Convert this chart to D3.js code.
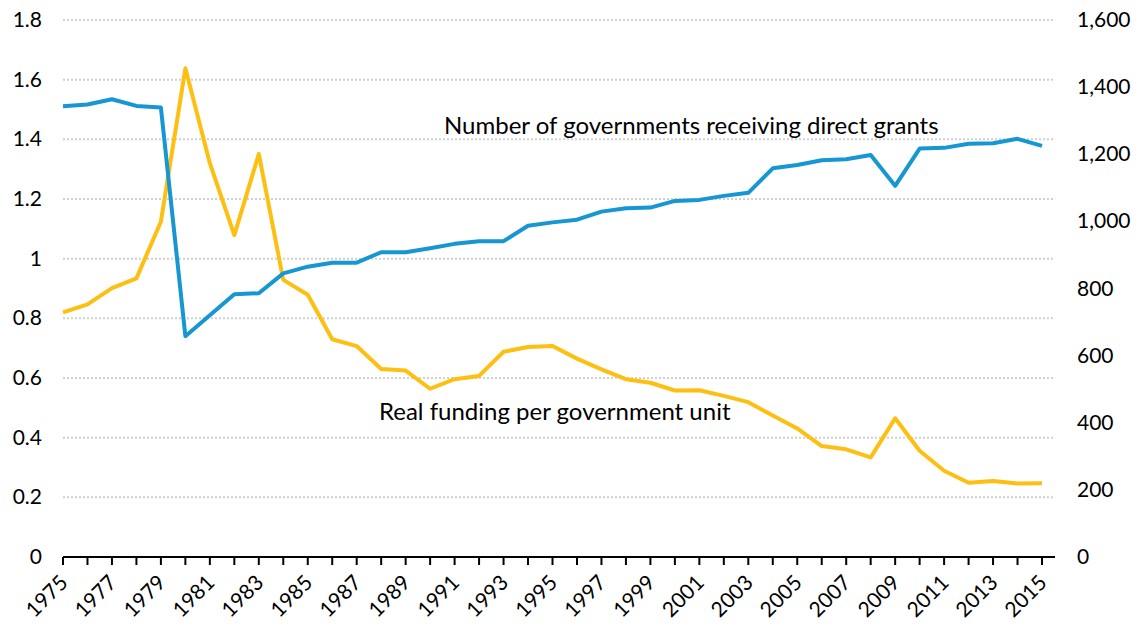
<!DOCTYPE html>
<html>
<head>
<meta charset="utf-8">
<script src="https://cdn.jsdelivr.net/npm/d3@7"></script>
<style>
  body { margin: 0; background: #fff; }
  svg text { font-family: Lato, "Open Sans", sans-serif; fill: #000; }
</style>
</head>
<body>
<svg width="1140" height="626"></svg>
<script>
var years = d3.range(1975, 2016);
// number of governments receiving direct grants (right axis)
var govCount = [1343, 1348, 1364, 1344, 1339, 658, 720, 783, 786, 845, 865, 877, 877, 908, 908, 920, 933, 941, 941, 987,
  997, 1005, 1029, 1039, 1041, 1061, 1064, 1076, 1085, 1158, 1168, 1182, 1185, 1198, 1106, 1217, 1219, 1231, 1233, 1246, 1225];
// real funding per government unit (left axis)
var funding = [0.820, 0.847, 0.901, 0.934, 1.124, 1.638, 1.320, 1.079, 1.351, 0.929, 0.879, 0.730, 0.707, 0.630, 0.625, 0.564,
  0.596, 0.607, 0.688, 0.704, 0.707, 0.665, 0.629, 0.596, 0.584, 0.558, 0.559, 0.540, 0.519, 0.474, 0.431, 0.372, 0.361,
  0.334, 0.465, 0.356, 0.289, 0.249, 0.255, 0.246, 0.247];
var leftTicks = [0, 0.2, 0.4, 0.6, 0.8, 1, 1.2, 1.4, 1.6, 1.8];
var rightTicks = [0, 200, 400, 600, 800, 1000, 1200, 1400, 1600];

var svg = d3.select('svg');
var plotLeft = 63, plotRight = 1055, plotTop = 20, plotBottom = 557;

var x = d3.scaleLinear().domain([1975, 2015]).range([plotLeft, 1042]);
var yL = d3.scaleLinear().domain([0, 1.8]).range([plotBottom, plotTop]);
var yR = d3.scaleLinear().domain([0, 1600]).range([plotBottom, plotTop]);

// gridlines
svg.append('g').selectAll('line').data(leftTicks.slice(1)).enter().append('line')
  .attr('x1', plotLeft).attr('x2', plotRight - 2)
  .attr('y1', function(d){ return yL(d) }).attr('y2', function(d){ return yL(d) })
  .attr('stroke', '#d0d0d0').attr('stroke-width', 2).attr('stroke-dasharray', '2,2');

// left axis labels
svg.append('g').selectAll('text').data(leftTicks).enter().append('text')
  .attr('x', 42).attr('y', function(d){ return yL(d) + 7 })
  .attr('text-anchor', 'end').attr('font-size', 21)
  .text(function(d){ return d3.format('')(d) });

// right axis labels
svg.append('g').selectAll('text').data(rightTicks).enter().append('text')
  .attr('x', 1077).attr('y', function(d){ return yR(d) + 7 })
  .attr('font-size', 21)
  .text(function(d){ return d3.format(',')(d) });

// x axis
var xg = svg.append('g');
xg.append('line').attr('x1', plotLeft).attr('x2', plotRight).attr('y1', plotBottom).attr('y2', plotBottom)
  .attr('stroke', '#000').attr('stroke-width', 2);
xg.selectAll('line.tick').data(years).enter().append('line')
  .attr('class', 'tick')
  .attr('x1', function(d){ return x(d) }).attr('x2', function(d){ return x(d) })
  .attr('y1', plotBottom).attr('y2', plotBottom + 8)
  .attr('stroke', '#000').attr('stroke-width', 2);
xg.selectAll('text').data(years.filter(function(d){ return d % 2 == 1 })).enter().append('text')
  .attr('transform', function(d){ return 'translate(' + (x(d) + 6) + ',' + (plotBottom + 27) + ') rotate(-45)' })
  .attr('text-anchor', 'end').attr('font-size', 21)
  .text(function(d){ return d });

// lines
var lineR = d3.line().x(function(d, i){ return x(years[i]) }).y(function(d){ return yR(d) });
var lineL = d3.line().x(function(d, i){ return x(years[i]) }).y(function(d){ return yL(d) });

svg.append('path').datum(funding).attr('d', lineL)
  .attr('fill', 'none').attr('stroke', '#fdbf11').attr('stroke-width', 4).attr('stroke-linejoin', 'round');
svg.append('path').datum(govCount).attr('d', lineR)
  .attr('fill', 'none').attr('stroke', '#1696d2').attr('stroke-width', 4).attr('stroke-linejoin', 'round');

// labels
svg.append('text').attr('x', 444).attr('y', 134).attr('font-size', 24)
  .text('Number of governments receiving direct grants');
svg.append('text').attr('x', 379).attr('y', 420).attr('font-size', 24)
  .text('Real funding per government unit');
</script>
</body>
</html>
